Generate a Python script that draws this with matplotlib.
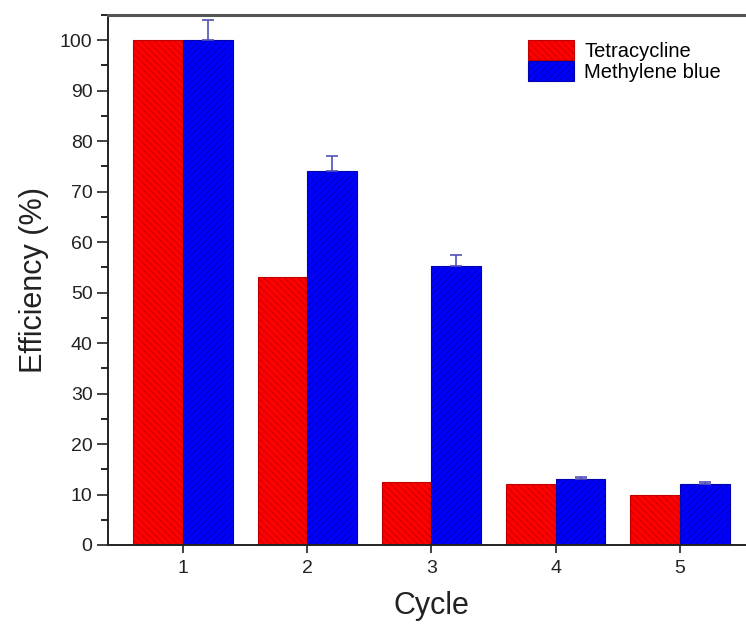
import numpy as np
import matplotlib
matplotlib.use('Agg')
import matplotlib.pyplot as plt
from matplotlib.ticker import MultipleLocator

plt.rcParams['font.family'] = ['Liberation Sans', 'DejaVu Sans']
plt.rcParams['hatch.linewidth'] = 0.6

# data
cycles = [1, 2, 3, 4, 5]
tetracycline = [100, 53, 12.5, 12, 10]
methylene_blue = [100, 74, 55.3, 13, 12]
mb_err = [4, 3, 2.2, 0.4, 0.5]

fig = plt.figure(figsize=(7.46, 6.26), dpi=100)
ax = fig.add_axes([0.1454, 0.1294, 0.866, 0.8466])

x = np.array(cycles)
width = 0.4
#Bars
ax.bar(x - width/2, tetracycline, width, facecolor='#ff0000', edgecolor='#c00000',
       hatch='\\\\\\\\\\', linewidth=0.8, label='Tetracycline')
ax.bar(x + width/2, methylene_blue, width, facecolor='#0000ff', edgecolor='#0000b0',
       hatch='/////', linewidth=0.8, label='Methylene blue')
#Upper error bars only
ax.errorbar(x + width/2, methylene_blue, yerr=[np.zeros(len(mb_err)), mb_err],
            fmt='none', ecolor='#5050b8', elinewidth=1.2, capsize=4, capthick=1.2)

#Axis
ax.set_xlim(0.4, 5.6)
ax.set_ylim(0, 105)
ax.set_xticks(cycles)
ax.yaxis.set_major_locator(MultipleLocator(10))
ax.yaxis.set_minor_locator(MultipleLocator(5))
ax.tick_params(axis='both', which='major', direction='out', length=8, width=1.2,
               labelsize=14, colors='#222222')
ax.tick_params(axis='y', which='minor', direction='out', length=5, width=1.2)
ax.tick_params(axis='x', which='major', length=6, pad=5)
for s in ['left', 'bottom']:
    ax.spines[s].set_linewidth(1.4)
    ax.spines[s].set_color('#222222')
ax.spines['top'].set_linewidth(2.2)
ax.spines['top'].set_color('#555555')
ax.spines['right'].set_visible(False)

ax.set_xlabel('Cycle', fontsize=22, color='#222222', labelpad=10)
ax.set_ylabel('Efficiency (%)', fontsize=22, color='#222222', labelpad=8)

leg = ax.legend(loc='upper left', bbox_to_anchor=(0.649, 0.953), frameon=False,
                fontsize=14.5, handlelength=2.3, handleheight=1.15,
                labelspacing=0.0, handletextpad=0.5, borderaxespad=0, borderpad=0)

fig.savefig('out.png', dpi=100)
